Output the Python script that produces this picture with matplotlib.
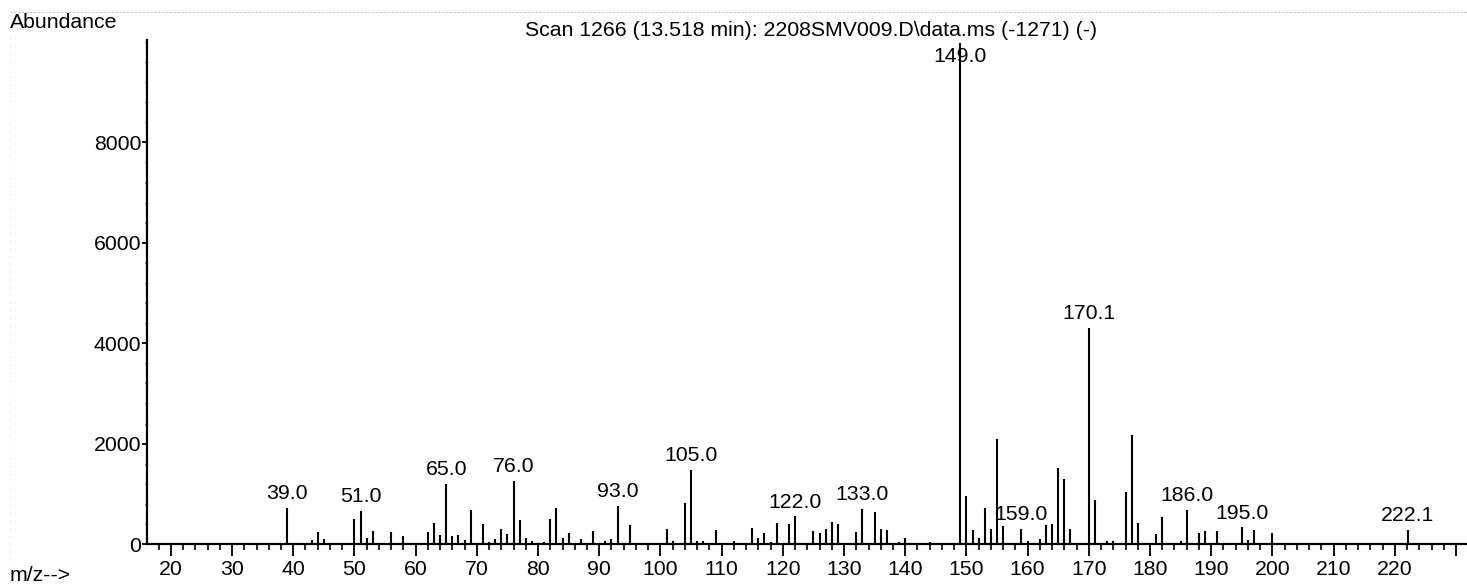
import matplotlib
matplotlib.use('Agg')
import matplotlib.pyplot as plt
import numpy as np

#Espectro de masas, scan 1266
mz = [39, 43, 44, 45, 50, 51, 52, 53, 56, 58, 62, 63, 64, 65, 66, 67, 68, 69,
      71, 72, 73, 74, 75, 76, 77, 78, 79, 81, 82, 83, 84, 85, 87, 89, 91, 92,
      93, 95, 101, 102, 104, 105, 106, 107, 109, 112, 115, 116, 117, 118, 119,
      121, 122, 125, 126, 127, 128, 129, 132, 133, 135, 136, 137, 139, 140, 144,
      149, 150, 151, 152, 153, 154, 155, 156, 159, 160, 161, 162, 163, 164, 165,
      166, 167, 170.1, 171, 173, 174, 176, 177, 178, 181, 182, 185, 186, 188,
      189, 191, 195, 196, 197, 200, 222.1]
abundancia = [710, 80, 230, 100, 500, 660, 110, 260, 230, 150, 240, 410, 180,
              1200, 150, 170, 70, 680, 390, 30, 100, 290, 200, 1250, 470, 110,
              50, 30, 500, 720, 120, 220, 90, 260, 50, 100, 750, 380, 300, 50,
              820, 1480, 50, 50, 280, 60, 320, 120, 220, 40, 420, 400, 550, 250,
              210, 300, 440, 390, 230, 700, 630, 300, 270, 30, 110, 30, 9980,
              950, 280, 110, 720, 300, 2100, 360, 300, 50, 20, 90, 380, 400,
              1520, 1290, 300, 4300, 880, 50, 50, 1030, 2170, 410, 190, 530, 50,
              680, 210, 250, 250, 330, 80, 280, 210, 280]

#Picos con etiqueta
etiquetas = ['39.0', '51.0', '65.0', '76.0', '93.0', '105.0', '122.0', '133.0',
             '149.0', '159.0', '170.1', '186.0', '195.0', '222.1']

titulo = 'Scan 1266 (13.518 min): 2208SMV009.D\\data.ms (-1271) (-)'

plt.rcParams['font.family'] = ['Liberation Sans', 'DejaVu Sans']
plt.rcParams['font.size'] = 15.3

W, H = 1467.0, 586.0
fig = plt.figure(figsize=(W / 100, H / 100), dpi=100)
ax = fig.add_axes([147 / W, 1 - 544 / H, 1 - 147 / W, (544 - 40) / H])

#Se grafican las lineas del espectro
ax.vlines(mz, 0, abundancia, color='black', linewidth=1.5)
ax.set_xlim(16.1, 231.8)
ax.set_ylim(0, 10040)

ax.spines['right'].set_color('none')
ax.spines['top'].set_color('none')
ax.spines['left'].set_linewidth(1.6)
ax.spines['bottom'].set_linewidth(1.6)

#Ejes
xt = np.arange(20, 231, 10)
ax.set_xticks(xt)
ax.set_xticklabels([str(v) if v <= 220 else '' for v in xt])
ax.set_xticks(np.arange(18, 232, 2), minor=True)
ax.set_yticks([0, 2000, 4000, 6000, 8000])
ax.set_yticks(np.arange(0, 10001, 400), minor=True)
ax.tick_params(axis='x', which='major', direction='out', length=8.6, width=1.3, pad=3.2)
ax.tick_params(axis='x', which='minor', direction='out', length=4.3, width=1.2)
ax.tick_params(axis='y', which='major', direction='out', length=3.6, width=1.3, pad=0.5)
ax.tick_params(axis='y', which='minor', direction='out', length=1.5, width=0.8)

#Etiquetas de los picos
for t in etiquetas:
    v = float(t)
    i = int(np.argmin(np.abs(np.array(mz, dtype=float) - v)))
    y = abundancia[i]
    if y > 9000:
        ax.annotate(t, (mz[i], y), xytext=(0, -3), textcoords='offset points',
                    ha='center', va='top')
    else:
        ax.annotate(t, (mz[i], y), xytext=(0, 3.5), textcoords='offset points',
                    ha='center', va='bottom')

fig.text(10 / W, 1 - 28 / H, 'Abundance', ha='left', va='baseline')
fig.text(811 / W, 1 - 36.5 / H, titulo, ha='center', va='baseline')
fig.text(10 / W, 1 - 581 / H, 'm/z-->', ha='left', va='baseline')

#Borde punteado de la hoja
fig.add_artist(plt.Line2D([10 / W, 1], [1 - 12 / H, 1 - 12 / H], color='#c8c8c8',
                          linewidth=0.8, linestyle=(0, (2, 1.5))))
fig.add_artist(plt.Line2D([10 / W, 10 / W], [1 - 30 / H, 1 - 565 / H], color='#dddddd',
                          linewidth=0.8, linestyle=(0, (1, 6))))

fig.savefig('out.png', dpi=100)
